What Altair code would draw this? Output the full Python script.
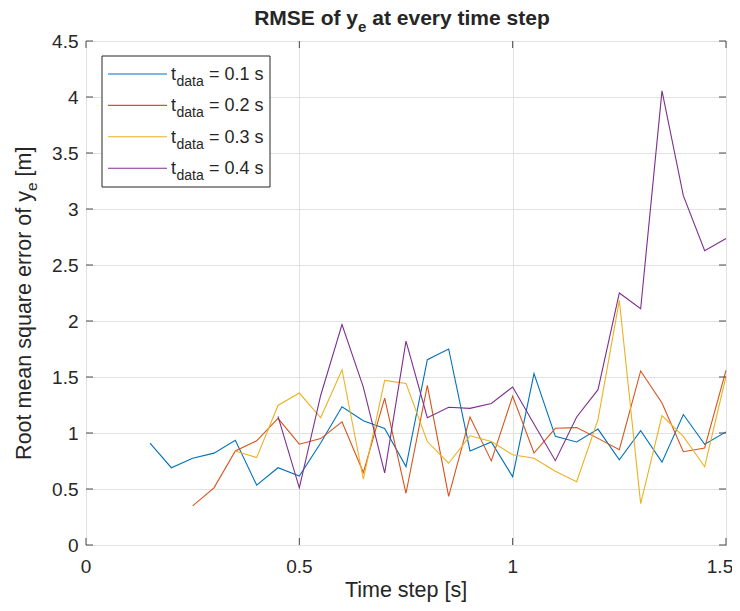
import altair as alt
import pandas as pd

# ---------------- data ----------------
time_steps = [0.15, 0.2, 0.25, 0.3, 0.35, 0.4, 0.45, 0.5, 0.55, 0.6, 0.65, 0.7,
              0.75, 0.8, 0.85, 0.9, 0.95, 1.0, 1.05, 1.1, 1.15, 1.2, 1.25, 1.3,
              1.35, 1.4, 1.45, 1.5]

rmse_01 = [0.91, 0.69, 0.775, 0.82, 0.935, 0.535, 0.69, 0.615, 0.91, 1.235,
           1.11, 1.04, 0.70, 1.655, 1.75, 0.84, 0.92, 0.61, 1.53, 0.97, 0.92,
           1.035, 0.76, 1.02, 0.74, 1.165, 0.90, 1.01]
rmse_02 = [0.35, 0.51, 0.84, 0.93, 1.13, 0.90, 0.95, 1.10, 0.647, 1.312,
           0.462, 1.425, 0.435, 1.142, 0.751, 1.33, 0.821, 1.042, 1.048, 0.952,
           0.851, 1.554, 1.268, 0.833, 0.866, 1.56]
rmse_03 = [0.84, 0.78, 1.246, 1.357, 1.136, 1.565, 0.587, 1.47, 1.443, 0.924,
           0.73, 0.975, 0.924, 0.805, 0.774, 0.658, 0.565, 1.119, 2.185, 0.369,
           1.155, 0.97, 0.699, 1.506]
rmse_04 = [1.148, 0.51, 1.335, 1.968, 1.41, 0.644, 1.82, 1.136, 1.23, 1.22,
           1.264, 1.411, 1.08, 0.753, 1.143, 1.387, 2.25, 2.11, 4.055, 3.119,
           2.627, 2.737]

series_ids = ["0.1", "0.2", "0.3", "0.4"]
legend_values = ["= 0.1 s", "= 0.2 s", "= 0.3 s", "= 0.4 s"]
series_colors = ["#0072BD", "#D95319", "#EDB120", "#7E2F8E"]

x_ticks = [0, 0.5, 1, 1.5]
y_ticks = [0, 0.5, 1, 1.5, 2, 2.5, 3, 3.5, 4, 4.5]

rows = []
for sid, vals in zip(series_ids, [rmse_01, rmse_02, rmse_03, rmse_04]):
    xs = time_steps[len(time_steps) - len(vals):]
    for t, v in zip(xs, vals):
        rows.append({"t": t, "rmse": v, "series": sid})
df = pd.DataFrame(rows)

# ---------------- style ----------------
FONT = "Liberation Sans"
TXT = "#262626"
AX = "#4a4a4a"
W, H = 640, 504

x_enc = alt.X("t:Q", scale=alt.Scale(domain=[0, 1.5], nice=False, zero=True),
              axis=alt.Axis(values=x_ticks, title=None, ticks=False, labels=False,
                            domain=False, grid=True, gridColor="#e2e2e2"))
y_enc = alt.Y("rmse:Q", scale=alt.Scale(domain=[0, 4.5], nice=False, zero=True),
              axis=alt.Axis(values=y_ticks, format="~g", title=None, ticks=False,
                            domain=False, grid=True, gridColor="#e2e2e2",
                            labelFlush=False, labelOverlap=False,
                            labelFont=FONT, labelFontSize=19, labelColor=TXT,
                            labelPadding=8))

lines = alt.Chart(df).mark_line(strokeWidth=1.1).encode(
    x=x_enc, y=y_enc,
    color=alt.Color("series:N", scale=alt.Scale(domain=series_ids, range=series_colors),
                    legend=None),
)

xt = pd.DataFrame({"t": x_ticks})
yt = pd.DataFrame({"rmse": y_ticks})
tick_layers = [
    alt.Chart(xt).mark_rule(color=AX).encode(x=x_enc, y=alt.value(H), y2=alt.value(H - 7)),
    alt.Chart(xt).mark_rule(color=AX).encode(x=x_enc, y=alt.value(0), y2=alt.value(7)),
    alt.Chart(yt).mark_rule(color=AX).encode(y=y_enc, x=alt.value(0), x2=alt.value(7)),
    alt.Chart(yt).mark_rule(color=AX).encode(y=y_enc, x=alt.value(W), x2=alt.value(W - 7)),
]

# x tick labels (last one nudged left so it stays inside the page)
xlab_layers = [
    alt.Chart(xt[xt["t"] < 1.5]).mark_text(
        align="center", baseline="alphabetic", font=FONT, fontSize=19, color=TXT
    ).encode(x=x_enc, y=alt.value(532), text=alt.Text("t:Q", format="~g")),
    alt.Chart(xt[xt["t"] >= 1.5]).mark_text(
        align="center", baseline="alphabetic", font=FONT, fontSize=19, color=TXT, dx=-6
    ).encode(x=x_enc, y=alt.value(532), text=alt.Text("t:Q", format="~g")),
]

one = pd.DataFrame({"k": [0]})


def txt(s, x, y, size, align="left", angle=0, bold=False):
    kw = dict(text=s, align=align, baseline="alphabetic", font=FONT,
              fontSize=size, color=TXT)
    if angle:
        kw["angle"] = angle
    if bold:
        kw["fontWeight"] = "bold"
    return alt.Chart(one).mark_text(**kw).encode(x=alt.value(x), y=alt.value(y))


# legend
legend_layers = [
    alt.Chart(one).mark_rect(fill="white", stroke=TXT, strokeWidth=1).encode(
        x=alt.value(16), x2=alt.value(184), y=alt.value(15), y2=alt.value(146))
]
for i, (val, col) in enumerate(zip(legend_values, series_colors)):
    ly = 33 + 31.4 * i
    legend_layers.append(
        alt.Chart(one).mark_rule(color=col, strokeWidth=1.1).encode(
            x=alt.value(22), x2=alt.value(81), y=alt.value(ly)))
    legend_layers.append(txt("t", 85, ly + 6, 18))
    legend_layers.append(txt("data", 90.5, ly + 12, 14))
    legend_layers.append(txt(val, 123, ly + 6, 18))

# title  "RMSE of y_e at every time step"
ts = 272
title_layers = [
    txt("RMSE of y", ts, -16, 21, align="right", bold=True),
    txt("e", ts, -9, 15, bold=True),
    txt("at every time step", ts + 8.5 + 5.8, -16, 21, bold=True),
]

# y title "Root mean square error of y_e [m]"
ys = 150
ytitle_layers = [
    txt("Root mean square error of y", -55, ys, 21.5, align="right", angle=270),
    txt("e", -49, ys, 15.5, angle=270),
    txt("[m]", -55, ys - 8.6 - 6, 21.5, angle=270),
]

# x title
xtitle_layers = [txt("Time step [s]", 320, 556, 21.5, align="center")]

chart = alt.layer(
    lines, *tick_layers, *xlab_layers, *legend_layers, *title_layers,
    *ytitle_layers, *xtitle_layers
).properties(
    width=W, height=H,
    padding={"left": 78, "top": 33, "right": 6, "bottom": 58},
    autosize=alt.AutoSizeParams(type="none"),
).configure_view(stroke=AX, strokeWidth=1)

chart.save("out.html", embed_options={"renderer": "svg", "actions": False})
